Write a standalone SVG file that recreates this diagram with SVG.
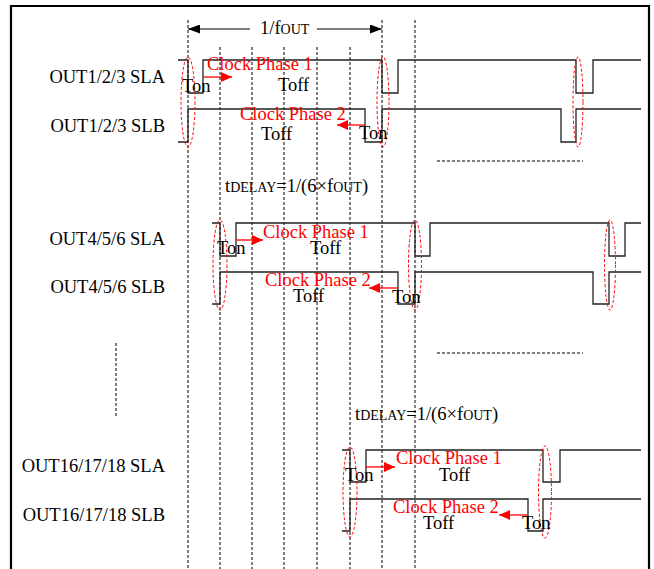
<svg xmlns="http://www.w3.org/2000/svg" width="654" height="569" viewBox="0 0 654 569">
<style>
text{font-family:"Liberation Serif","Times New Roman",serif;font-size:18.5px;fill:#000}
.r{fill:#ff0000}
.sm{font-size:14px}
.lbl{text-anchor:end}
.grid{stroke:#000;stroke-width:1;stroke-dasharray:3,2;fill:none}
.wave{stroke:#222;stroke-width:1.3;fill:none}
.ell{stroke:#ff0000;stroke-width:1;stroke-dasharray:3,2;fill:none}
.ra{stroke:#ff0000;stroke-width:1.3;fill:none}
.ba{stroke:#000;stroke-width:1.2;fill:none}
</style>
<defs>
<marker id="mr" markerUnits="userSpaceOnUse" markerWidth="12" markerHeight="10" refX="11" refY="5" orient="auto"><path d="M0,0 L11,5 L0,10 z" fill="#ff0000"/></marker>
<marker id="mb" markerUnits="userSpaceOnUse" markerWidth="13" markerHeight="9" refX="12" refY="4.5" orient="auto"><path d="M0,0 L12,4.5 L0,9 z" fill="#000"/></marker>
</defs>
<rect width="654" height="569" fill="#fff"/>
<path d="M11,572 V6 H649 V572" stroke="#000" stroke-width="2.2" fill="none"/>
<g id="grid">
<line class="grid" x1="188" y1="20" x2="188" y2="569"/>
<line class="grid" x1="220" y1="47" x2="220" y2="569"/>
<line class="grid" x1="252" y1="47" x2="252" y2="569"/>
<line class="grid" x1="284" y1="47" x2="284" y2="569"/>
<line class="grid" x1="317" y1="47" x2="317" y2="569"/>
<line class="grid" x1="350" y1="47" x2="350" y2="569"/>
<line class="grid" x1="382" y1="20" x2="382" y2="569"/>
<line class="grid" x1="415" y1="20" x2="415" y2="569"/>
<line class="grid" x1="437" y1="161" x2="583" y2="161"/>
<line class="grid" x1="437" y1="353" x2="583" y2="353"/>
<line class="grid" x1="116" y1="343" x2="116" y2="418"/>
</g>
<g id="period">
<line class="ba" x1="250" y1="29" x2="188" y2="29" marker-end="url(#mb)"/>
<line class="ba" x1="317" y1="29" x2="382" y2="29" marker-end="url(#mb)"/>
<text x="260" y="34">1/f<tspan class="sm">OUT</tspan></text>
</g>
<g id="row1">
<text class="lbl" x="165" y="83">OUT1/2/3 SLA</text>
<text class="lbl" x="165" y="132">OUT1/2/3 SLB</text>
<path class="wave" d="M178,60 H188 V93 H203 V60 H382 V93 H398 V60 H576 V93 H593 V60 H641"/>
<path class="wave" d="M178,142 H188 V109 H365 V142 H382 V109 H561 V142 H576 V109 H641"/>
<ellipse class="ell" cx="188" cy="102" rx="7" ry="45"/>
<ellipse class="ell" cx="383" cy="102" rx="6" ry="45"/>
<ellipse class="ell" cx="578" cy="102" rx="5" ry="45"/>
<line class="ra" x1="203" y1="77" x2="232" y2="77" marker-end="url(#mr)"/>
<line class="ra" x1="365" y1="125" x2="337" y2="125" marker-end="url(#mr)"/>
<text x="182" y="92">Ton</text>
<text class="r" x="207" y="70">Clock Phase 1</text>
<text x="278" y="91">Toff</text>
<text class="r" x="240" y="120">Clock Phase 2</text>
<text x="261" y="140">Toff</text>
<text x="359" y="139">Ton</text>
</g>
<g id="delay1">
<text x="225" y="192">t<tspan class="sm">DELAY</tspan>=1/(6×f<tspan class="sm">OUT</tspan>)</text>
</g>
<g id="row2">
<text class="lbl" x="165" y="245">OUT4/5/6 SLA</text>
<text class="lbl" x="165" y="293">OUT4/5/6 SLB</text>
<path class="wave" d="M212,223 H220 V256 H236 V223 H415 V256 H430 V223 H609 V256 H625 V223 H641"/>
<path class="wave" d="M212,304 H220 V272 H398 V304 H415 V272 H593 V304 H609 V272 H641"/>
<ellipse class="ell" cx="220" cy="265" rx="7" ry="45"/>
<ellipse class="ell" cx="415" cy="265" rx="6.5" ry="45"/>
<ellipse class="ell" cx="610" cy="265" rx="5.5" ry="45"/>
<line class="ra" x1="236" y1="240" x2="263" y2="240" marker-end="url(#mr)"/>
<line class="ra" x1="398" y1="288" x2="369" y2="288" marker-end="url(#mr)"/>
<text x="217" y="254">Ton</text>
<text class="r" x="263" y="238">Clock Phase 1</text>
<text x="310" y="254">Toff</text>
<text class="r" x="265" y="286">Clock Phase 2</text>
<text x="293" y="302">Toff</text>
<text x="392" y="303">Ton</text>
</g>
<g id="delay2">
<text x="355" y="420">t<tspan class="sm">DELAY</tspan>=1/(6×f<tspan class="sm">OUT</tspan>)</text>
</g>
<g id="row3">
<text class="lbl" x="165" y="472">OUT16/17/18 SLA</text>
<text class="lbl" x="165" y="521">OUT16/17/18 SLB</text>
<path class="wave" d="M342,450 H350 V482 H366 V450 H543 V482 H560 V450 H641"/>
<path class="wave" d="M342,531 H350 V499 H528 V531 H543 V499 H641"/>
<ellipse class="ell" cx="350" cy="492" rx="7" ry="45"/>
<ellipse class="ell" cx="545" cy="492" rx="6.5" ry="46"/>
<line class="ra" x1="366" y1="467" x2="395" y2="467" marker-end="url(#mr)"/>
<line class="ra" x1="528" y1="515" x2="499" y2="515" marker-end="url(#mr)"/>
<text x="345" y="481">Ton</text>
<text class="r" x="396" y="464">Clock Phase 1</text>
<text x="439" y="481">Toff</text>
<text class="r" x="393" y="513">Clock Phase 2</text>
<text x="423" y="529">Toff</text>
<text x="522" y="529">Ton</text>
</g>
</svg>
